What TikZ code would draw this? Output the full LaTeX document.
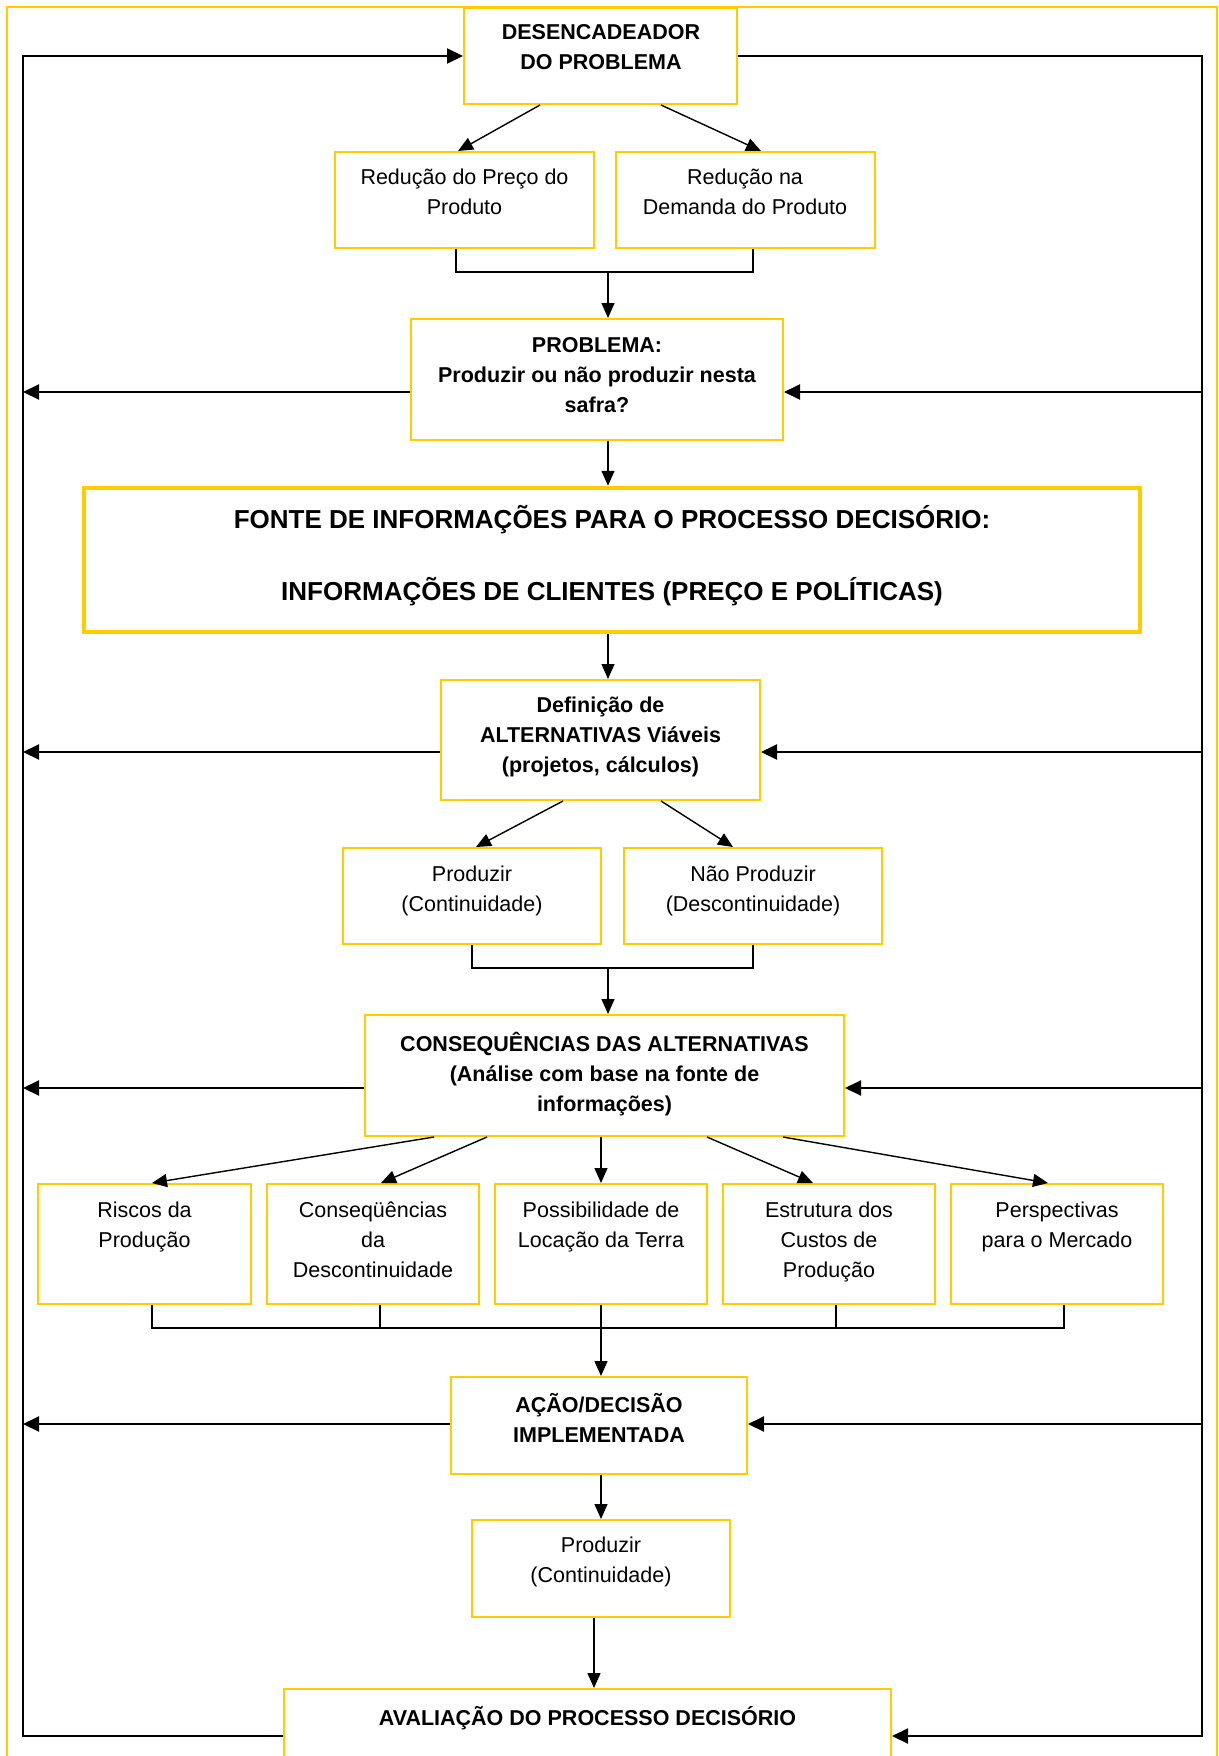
\documentclass[tikz,border=0pt]{standalone}
\usepackage{fontspec}
\setmainfont{Liberation Sans}
\usetikzlibrary{arrows.meta}
\definecolor{ylw}{HTML}{FFCC00}
\tikzset{
  box/.style={draw=ylw, line width=2pt, inner sep=0pt, fill=white},
  txt/.style={align=center, inner sep=0pt, font=\fontsize{21.5}{30}\selectfont,
              execute at begin node=\strut, execute at end node=\strut},
  txtb/.style={txt, font=\fontsize{21.5}{30}\selectfont\bfseries},
  conn/.style={line width=1.4pt, black},
  arr/.style={conn, -{Triangle[length=15pt,width=13pt]}},
  loop/.style={line width=2pt, black},
  larr/.style={loop, -{Triangle[length=16pt,width=15pt]}}
}
\begin{document}
\begin{tikzpicture}[x=1pt,y=-1pt]
\useasboundingbox (0,0) rectangle (1218,1756);
\clip (0,0) rectangle (1218,1756);
\fill[white] (0,0) rectangle (1218,1756);
\draw[ylw, line width=1.6pt] (7,7) rectangle (1217,1800);

% boxes
\node[box, minimum width=273pt, minimum height=96pt] (b1) at (600.5,56) {};
\node[box, minimum width=259pt, minimum height=96pt] (b2) at (464.5,200) {};
\node[box, minimum width=259pt, minimum height=96pt] (b3) at (745.5,200) {};
\node[box, minimum width=372pt, minimum height=121pt] (b4) at (597,379.5) {};
\node[draw=ylw, line width=4.5pt, inner sep=0pt, minimum width=1056pt, minimum height=144pt] (b5) at (612,560) {};
\node[box, minimum width=319pt, minimum height=120pt] (b6) at (600.5,740) {};
\node[box, minimum width=258pt, minimum height=96pt] (b7) at (472,896) {};
\node[box, minimum width=258pt, minimum height=96pt] (b8) at (753,896) {};
\node[box, minimum width=479pt, minimum height=121pt] (b9) at (604.5,1075.5) {};
\node[box, minimum width=213pt, minimum height=120pt] (c1) at (144.5,1244) {};
\node[box, minimum width=212pt, minimum height=120pt] (c2) at (373,1244) {};
\node[box, minimum width=212pt, minimum height=120pt] (c3) at (601,1244) {};
\node[box, minimum width=212pt, minimum height=120pt] (c4) at (829,1244) {};
\node[box, minimum width=212pt, minimum height=120pt] (c5) at (1057,1244) {};
\node[box, minimum width=296pt, minimum height=97pt] (b15) at (599,1425.5) {};
\node[box, minimum width=258pt, minimum height=97pt] (b16) at (601,1568.5) {};
\node[box, minimum width=607pt, minimum height=110pt] (b17) at (587.5,1744) {};

% texts
\node[txtb] (t1) at (601,51.5) {DESENCADEADOR\\DO PROBLEMA};
\node[txt] (t2) at (464.5,196.5) {Redução do Preço do\\Produto};
\node[txt] (t3) at (745,196.5) {Redução na\\Demanda do Produto};
\node[txtb] (t4) at (597,379) {PROBLEMA:\\Produzir ou não produzir nesta\\safra?};
\node[align=center, inner sep=0pt, font=\fontsize{26}{36}\selectfont\bfseries,
      execute at begin node=\strut, execute at end node=\strut] (t5) at (612,558)
      {FONTE DE INFORMAÇÕES PARA O PROCESSO DECISÓRIO:\\[36pt]INFORMAÇÕES DE CLIENTES (PREÇO E POLÍTICAS)};
\node[txtb] (t6) at (600.5,739) {Definição de\\ALTERNATIVAS Viáveis\\(projetos, cálculos)};
\node[txt] (t7) at (472,893) {Produzir\\(Continuidade)};
\node[txt] (t8) at (753,893) {Não Produzir\\(Descontinuidade)};
\node[txtb] (t9) at (604.5,1076) {CONSEQUÊNCIAS DAS ALTERNATIVAS\\(Análise com base na fonte de\\informações)};
\node[txt] (u1) at (144.5,1229) {Riscos da\\Produção};
\node[txt] (u2) at (373,1244) {Conseqüências\\da\\Descontinuidade};
\node[txt] (u3) at (601,1229) {Possibilidade de\\Locação da Terra};
\node[txt] (u4) at (829,1244) {Estrutura dos\\Custos de\\Produção};
\node[txt] (u5) at (1057,1229) {Perspectivas\\para o Mercado};
\node[txtb] (t15) at (599,1422) {AÇÃO/DECISÃO\\IMPLEMENTADA};
\node[txt] (t16) at (601,1564.5) {Produzir\\(Continuidade)};
\node[txtb] (t17) at (587.5,1719) {AVALIAÇÃO DO PROCESSO DECISÓRIO};

% coordinates
\coordinate (m1) at (608,272);
\coordinate (m2) at (608,968);
\coordinate (m3) at (601,1328);
\coordinate (L) at (23,0);
\coordinate (R) at (1202,0);

% main flow
\draw[arr] (b1.south -| 540,0) -- (b2.north -| 458,0);
\draw[arr] (b1.south -| 661,0) -- (b3.north -| 761,0);
\draw[conn] (b2.south -| 456,0) |- (m1) -| (b3.south -| 753,0);
\draw[arr] (m1) -- (b4.north -| m1);
\draw[arr] (b4.south -| 608,0) -- (b5.north -| 608,0);
\draw[arr] (b5.south -| 608,0) -- (b6.north -| 608,0);
\draw[arr] (b6.south -| 563,0) -- (b7.north -| 476,0);
\draw[arr] (b6.south -| 661,0) -- (b8.north -| 733,0);
\draw[conn] (b7.south) |- (m2) -| (b8.south);
\draw[arr] (m2) -- (b9.north -| m2);
\draw[arr] (b9.south -| 434,0) -- (c1.north -| 152,0);
\draw[arr] (b9.south -| 487,0) -- (c2.north -| 381,0);
\draw[arr] (b9.south -| 601,0) -- (c3.north -| 601,0);
\draw[arr] (b9.south -| 707,0) -- (c4.north -| 813,0);
\draw[arr] (b9.south -| 783,0) -- (c5.north -| 1048,0);
\draw[conn] (c1.south -| 152,0) |- (m3) -| (c5.south -| 1064,0);
\draw[conn] (c2.south -| 380,0) -- (m3 -| 380,0);
\draw[conn] (c3.south) -- (m3);
\draw[conn] (c4.south -| 836,0) -- (m3 -| 836,0);
\draw[arr] (m3) -- (b15.north -| m3);
\draw[arr] (b15.south -| 601,0) -- (b16.north -| 601,0);
\draw[arr] (b16.south -| 594,0) -- (b17.north -| 594,0);

% feedback loop
\draw[larr] (b17.west |- 0,1736) -| (L |- b1.west) -- (b1.west);
\draw[larr] (b1.east) -| (R |- 0,1736) -- (b17.east |- 0,1736);
\draw[larr] (b4.west |- 0,392) -- (L |- 0,392);
\draw[larr] (R |- 0,392) -- (b4.east |- 0,392);
\draw[larr] (b6.west |- 0,752) -- (L |- 0,752);
\draw[larr] (R |- 0,752) -- (b6.east |- 0,752);
\draw[larr] (b9.west |- 0,1088) -- (L |- 0,1088);
\draw[larr] (R |- 0,1088) -- (b9.east |- 0,1088);
\draw[larr] (b15.west |- 0,1424) -- (L |- 0,1424);
\draw[larr] (R |- 0,1424) -- (b15.east |- 0,1424);
\end{tikzpicture}
\end{document}
